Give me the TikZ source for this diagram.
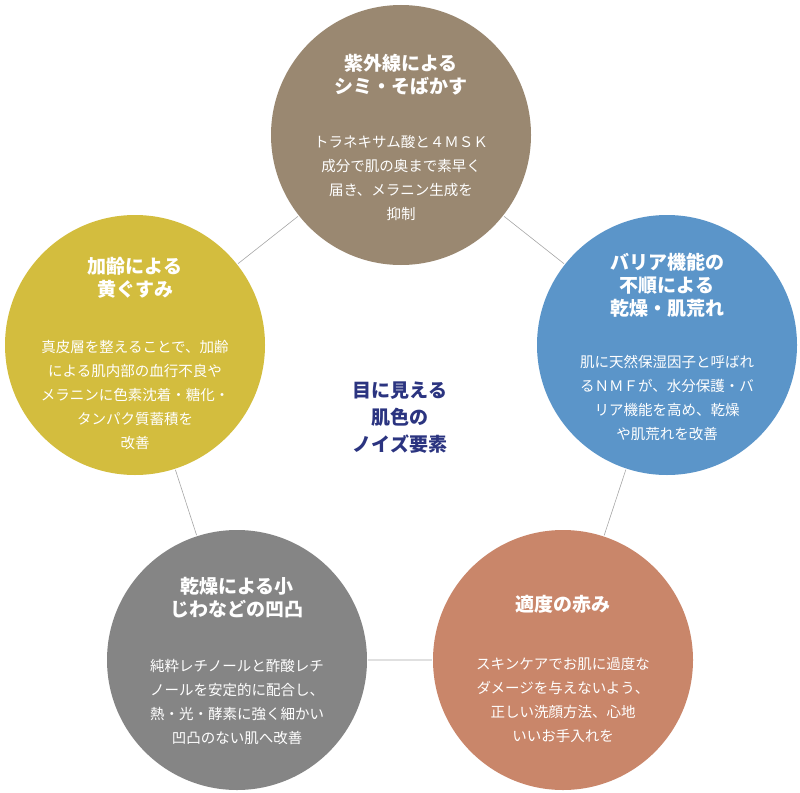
\documentclass[tikz,border=0pt]{standalone}
\usepackage{fontspec}
\setmainfont{Noto Sans CJK JP}
\newfontfamily\jpb{Noto Sans CJK JP Bold}
\definecolor{cbrown}{HTML}{9A8871}
\definecolor{cblue}{HTML}{5B95C9}
\definecolor{corange}{HTML}{C9866A}
\definecolor{cgray}{HTML}{858585}
\definecolor{cyellow}{HTML}{D3BD3E}
\definecolor{cnavy}{HTML}{2B3480}
\tikzset{
 blob/.style={circle,minimum size=262pt,inner sep=0pt},
 ttl/.style={text=white,font=\fontsize{19}{23}\selectfont\bfseries,align=center},
 body/.style={text=white,font=\fontsize{14.5}{24}\selectfont,align=center},
 link/.style={draw=gray!70,line width=0.6pt}
}
\begin{document}
\begin{tikzpicture}[x=1pt,y=-1pt]
\useasboundingbox (0,0) rectangle (800,792);
\node[blob] (a) at (401,135) {};
\node[blob] (b) at (667,345) {};
\node[blob] (c) at (563,660) {};
\node[blob] (d) at (237,660) {};
\node[blob] (e) at (135,345) {};
\draw[link] (a)--(b) (b)--(c) (c)--(d) (d)--(e) (e)--(a);
\fill[cbrown] (a) circle (130);
\fill[cblue] (b) circle (130);
\fill[corange] (c) circle (130);
\fill[cgray] (d) circle (130);
\fill[cyellow] (e) circle (130);
\node[ttl] (at) at (401,75) {紫外線による\\シミ・そばかす};
\node[body] (ab) at (401,178) {トラネキサム酸と４ＭＳＫ\\成分で肌の奥まで素早く\\届き、メラニン生成を\\抑制};
\node[ttl] (bt) at (667,285) {バリア機能の\\不順による\\乾燥・肌荒れ};
\node[body] (bb) at (667,398) {肌に天然保湿因子と呼ばれ\\るＮＭＦが、水分保護・バ\\リア機能を高め、乾燥\\や肌荒れを改善};
\node[ttl] (ct) at (563,604) {適度の赤み};
\node[body] (cb) at (563,700) {スキンケアでお肌に過度な\\ダメージを与えないよう、\\正しい洗顔方法、心地\\いいお手入れを};
\node[ttl] (dt) at (237,598) {乾燥による小\\じわなどの凹凸};
\node[body] (db) at (237,702) {純粋レチノールと酢酸レチ\\ノールを安定的に配合し、\\熱・光・酵素に強く細かい\\凹凸のない肌へ改善};
\node[ttl] (et) at (135,278) {加齢による\\黄ぐすみ};
\node[body] (eb) at (135,395) {真皮層を整えることで、加齢\\による肌内部の血行不良や\\メラニンに色素沈着・糖化・\\タンパク質蓄積を\\改善};
\node[text=cnavy,font=\fontsize{19}{27}\selectfont\bfseries,align=center] (m) at (400,418) {目に見える\\肌色の\\ノイズ要素};
\end{tikzpicture}
\end{document}
